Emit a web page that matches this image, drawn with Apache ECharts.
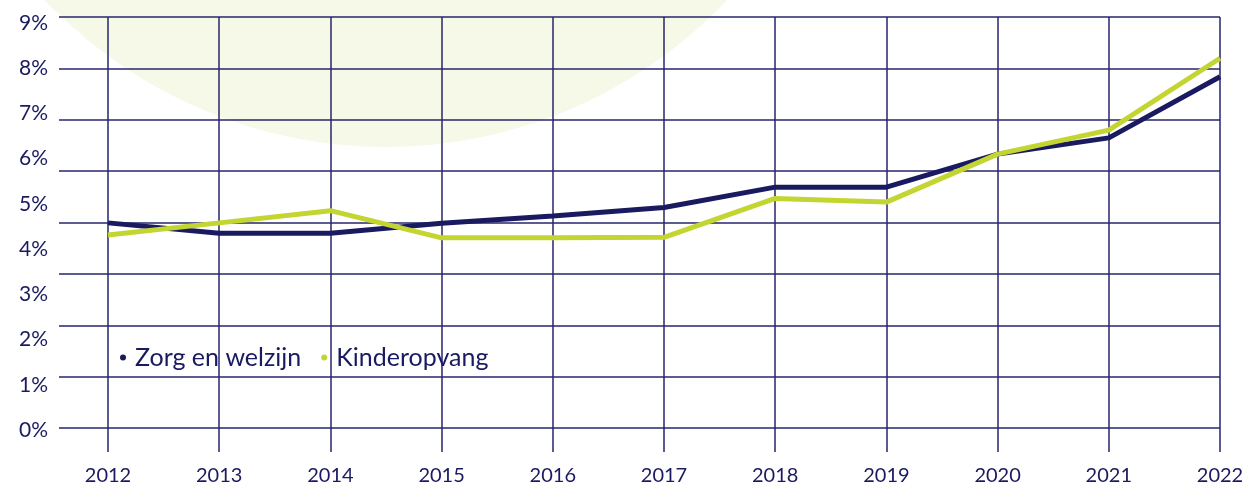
<!DOCTYPE html>
<html>
<head>
<meta charset="utf-8">
<script src="https://cdn.jsdelivr.net/npm/echarts@6/dist/echarts.min.js"></script>
<style>
html,body{margin:0;padding:0;background:#fff;}
#chart{width:1249px;height:488px;}
</style>
</head>
<body>
<div id="chart"></div>
<script>
const years = ['2012','2013','2014','2015','2016','2017','2018','2019','2020','2021','2022'];
const zorgEnWelzijn = [4.58, 4.35, 4.35, 4.57, 4.73, 4.92, 5.37, 5.37, 6.10, 6.46, 7.81];
const kinderopvang = [4.31, 4.58, 4.85, 4.25, 4.25, 4.26, 5.12, 5.04, 6.10, 6.63, 8.22];
const yTickLabels = ['0%','1%','2%','3%','4%','5%','6%','7%','8%','9%'];
const seriesNames = ['Zorg en welzijn', 'Kinderopvang'];

const NAVY = '#1a1a60';
const GRID = '#26266b';
const GREEN = '#c3d531';
const FONT = 'Lato, "Open Sans", sans-serif';

const chart = echarts.init(document.getElementById('chart'), null, {renderer: 'canvas'});
chart.setOption({
  animation: false,
  backgroundColor: '#ffffff',
  graphic: [{
    type: 'circle', silent: true, z: -10,
    shape: {cx: 386, cy: 147 - 470, r: 470},
    style: {fill: '#f7f9e8'}
  }],
  legend: {
    left: 115, top: 340,
    icon: 'circle', itemWidth: 6, itemHeight: 6, itemGap: 20,
    textStyle: {color: NAVY, fontSize: 25, fontFamily: FONT, padding: [0, 0, 0, 4]},
    data: seriesNames
  },
  grid: [
    {left: 59, right: 29, top: 17, bottom: 60},
    {left: 108, right: 29, top: 17, bottom: 60},
    {left: 108, right: 29, top: 23, bottom: 58}
  ],
  xAxis: [
    {gridIndex: 0, type: 'value', show: false, min: 0, max: 1},
    {gridIndex: 1, type: 'category', data: years, boundaryGap: false,
     axisLine: {show: false},
     axisTick: {show: true, length: 24, inside: false, alignWithLabel: true, lineStyle: {color: GRID, width: 1.5}},
     splitLine: {show: true, lineStyle: {color: GRID, width: 1.5}},
     axisLabel: {color: NAVY, fontSize: 20, fontFamily: FONT, margin: 38, interval: 0}},
    {gridIndex: 2, type: 'category', data: years, boundaryGap: false, show: false}
  ],
  yAxis: [
    {gridIndex: 0, type: 'value', min: 0, max: 8, interval: 1,
     axisLine: {show: false}, axisTick: {show: false}, axisLabel: {show: false},
     splitLine: {show: true, lineStyle: {color: GRID, width: 1.5}}},
    {gridIndex: 1, type: 'value', min: 0, max: 1, show: false},
    {gridIndex: 2, type: 'value', min: 0, max: 9, interval: 1,
     axisLine: {show: false}, axisTick: {show: false}, splitLine: {show: false},
     axisLabel: {color: NAVY, fontSize: 21, fontFamily: FONT, margin: 60,
       formatter: v => yTickLabels[Math.round(v)] || ''}}
  ],
  series: [
    {name: seriesNames[0], type: 'line', xAxisIndex: 2, yAxisIndex: 2, data: zorgEnWelzijn,
     symbol: 'none', itemStyle: {color: NAVY}, lineStyle: {color: NAVY, width: 5}, z: 3},
    {name: seriesNames[1], type: 'line', xAxisIndex: 2, yAxisIndex: 2, data: kinderopvang,
     symbol: 'none', itemStyle: {color: GREEN}, lineStyle: {color: GREEN, width: 5}, z: 4}
  ]
});
</script>
</body>
</html>
